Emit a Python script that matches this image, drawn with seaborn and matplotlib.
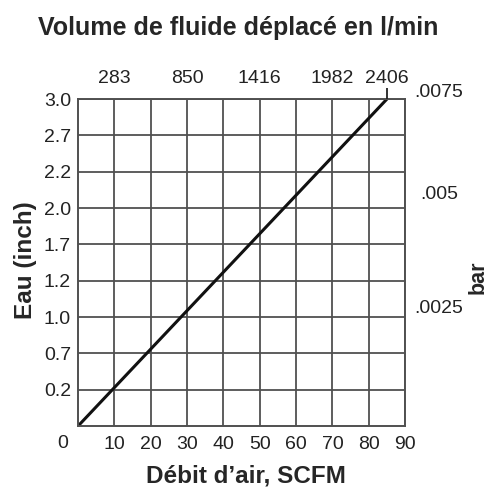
import matplotlib
matplotlib.use("Agg")
import matplotlib.pyplot as plt
import matplotlib.transforms as mtransforms
import numpy as np
import pandas as pd
import seaborn as sns

# ── DATA ──────────────────────────────────────────────────────────────────────
scfm = [0, 85]                 # débit d'air, SCFM
eau = [0.0, 3.0]               # pression, inch d'eau
x_ticks = [10, 20, 30, 40, 50, 60, 70, 80, 90]
y_labels = ["0.2", "0.7", "1.0", "1.2", "1.7", "2.0", "2.2", "2.7", "3.0"]
top_ticks = [10, 30, 50, 70, 85]
top_labels = ["283", "850", "1416", "1982", "2406"]
bar_pos = [3.06, 2.12, 1.08]
bar_labels = [".0075", ".005", ".0025"]

# ── SETUP ─────────────────────────────────────────────────────────────────────
sns.set_theme(style="white")
narrow = ["Liberation Sans Narrow", "Liberation Sans", "DejaVu Sans"]
bold = ["Liberation Sans", "DejaVu Sans"]
plt.rcParams["font.family"] = narrow
TICK_FS = 14

fig = plt.figure(figsize=(4.94, 4.88), dpi=100)
ax = fig.add_axes([0.158, 0.127, 0.662, 0.670])

df = pd.DataFrame({"SCFM": scfm, "Eau": eau})
sns.lineplot(data=df, x="SCFM", y="Eau", ax=ax, color="#111111", linewidth=2.2)

ax.set_xlim(0, 90)
ax.set_ylim(0, 3.0)
ax.set_xticks(x_ticks)
ax.set_xticklabels([str(t) for t in x_ticks], fontsize=TICK_FS)
y_pos = np.linspace(0, 3.0, len(y_labels) + 1)[1:]
ax.set_yticks(y_pos)
ax.set_yticklabels(y_labels, fontsize=TICK_FS)
ax.tick_params(axis="both", length=0, colors="#222222")
ax.tick_params(axis="x", pad=7)
ax.tick_params(axis="y", pad=5)
ax.grid(True, color="#505050", linewidth=1.3)
for s in ax.spines.values():
    s.set_color("#505050")
    s.set_linewidth(1.4)

ax.set_xlabel("Débit d\u2019air, SCFM", fontsize=17.5, fontweight="bold",
              family=bold, va="center")
ax.xaxis.set_label_coords(0.514, -0.153)
ax.set_ylabel("Eau (inch)", fontsize=17.5, fontweight="bold", family=bold,
              va="center")
ax.yaxis.set_label_coords(-0.162, 0.508)
ax.text(-0.03, -0.052, "0", transform=ax.transAxes, fontsize=TICK_FS,
        ha="right", va="center", color="#222222")

# top axis, l/min
ax_top = ax.twiny()
ax_top.set_xlim(ax.get_xlim())
ax_top.set_xticks(top_ticks)
ax_top.set_xticklabels(top_labels, fontsize=TICK_FS)
ax_top.tick_params(axis="x", length=0, pad=9, colors="#222222")
last = ax_top.xaxis.get_major_ticks()[-1].tick2line
last.set_markersize(8)
last.set_markeredgewidth(1.3)
last.set_color("#222222")
for s in ax_top.spines.values():
    s.set_visible(False)
ax_top.grid(False)

# right side, bar
trans = mtransforms.blended_transform_factory(ax.transAxes, ax.transData)
for pos, lab in zip(bar_pos, bar_labels):
    ax.text(1.104, pos, lab, transform=trans, fontsize=TICK_FS, ha="center",
            va="center", color="#222222")
ax.text(1.223, 0.456, "bar", transform=ax.transAxes, fontsize=15.5,
        fontweight="bold", family=bold, rotation=90, ha="center", va="center")

fig.text(0.483, 0.943, "Volume de fluide déplacé en l/min", fontsize=18,
         fontweight="bold", family=bold, ha="center", va="center")

plt.savefig("out.png", dpi=100)
plt.close()
